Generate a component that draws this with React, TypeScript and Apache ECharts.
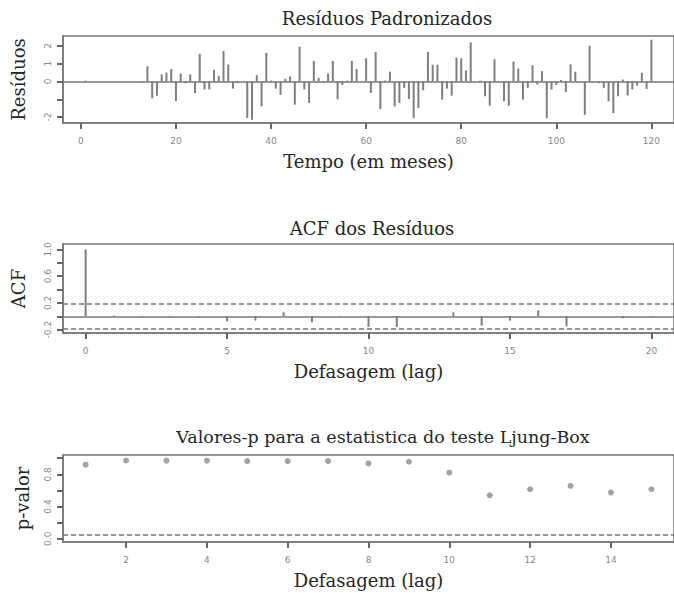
import React, { useEffect, useRef } from "react";
import * as echarts from "echarts";

// ---- Data ----
const tempo: number[] = Array.from({ length: 120 }, (_, i) => i + 1);
const residuos: number[] = [
  0.05, 0, 0, 0, 0, 0, 0, 0, 0, 0, 0, 0, -0.05, 0.85, -0.95, -0.8, 0.4, 0.5, 0.7, -1.1,
  0.45, -0.1, 0.4, -0.65, 1.55, -0.45, -0.45, 0.65, 0.3, 1.7,
  0.95, -0.4, -0.1, 0, -2.05, -2.15, 0.35, -1.4, 1.6, 0.05,
  -0.4, -0.75, 0.15, 0.28, -1.3, 1.95, -0.45, -1.2, 1.15, 0.2,
  -0.05, 0.45, 1.15, -1.0, -0.2, 0.05, 1.15, 0.7, 0, 1.3,
  -0.64, 1.66, -1.55, 0.05, 0.55, -1.4, -1.21, -0.36, -0.98, -2.06,
  -1.49, -0.49, 1.66, 0.94, 0.94, -1.02, -0.4, -0.79, 1.34, 1.3,
  0.62, 2.19, 0, 0.05, -0.83, -1.36, 1.25, 0, -1.11, -1.36,
  1.11, 0.72, -1.02, -0.36, 0.91, -0.17, 0.58, -2.06, -0.45, -0.2,
  0.08, -0.6, 0.96, 0.55, 0, -1.87, 2.0, 0, -0.1, -0.36,
  -1.11, -1.77, -0.83, 0.11, -0.79, -0.45, -0.23, 0.49, -0.42, 2.34,
];

const acfLags: number[] = [0, 1, 2, 3, 4, 5, 6, 7, 8, 9, 10, 11, 12, 13, 14, 15, 16, 17, 18, 19, 20];
const acfValues: number[] = [
  1.0, 0.01, -0.01, -0.015, -0.015, -0.075, -0.065, 0.06, -0.09, 0.005, -0.16,
  -0.16, 0, 0.06, -0.14, -0.065, 0.09, -0.15, 0, -0.03, -0.01,
];
const acfLimit = 0.18;

const lbLags: number[] = [1, 2, 3, 4, 5, 6, 7, 8, 9, 10, 11, 12, 13, 14, 15];
const pValores: number[] = [
  0.92, 0.972, 0.97, 0.97, 0.964, 0.964, 0.964, 0.935, 0.956, 0.82, 0.54, 0.615, 0.656, 0.574, 0.615,
];
const pLimit = 0.05;

// tick positions / labels
const resXTicks = [0, 20, 40, 60, 80, 100, 120];
const resYTicks = [-2, -1, 0, 1, 2];
const resYLabels = [-2, 0, 1, 2];
const acfXTicks = [0, 5, 10, 15, 20];
const acfYTicks = [-0.2, 0, 0.2, 0.4, 0.6, 0.8, 1.0];
const acfYLabels = [-0.2, 0.2, 0.6, 1.0];
const lbXTicks = [2, 4, 6, 8, 10, 12, 14];
const lbYTicks = [0, 0.2, 0.4, 0.6, 0.8, 1.0];
const lbYLabels = [0, 0.4, 0.8];

const SERIF = "'DejaVu Serif', 'Liberation Serif', serif";
const SANS = "'DejaVu Sans', sans-serif";
const GREY = "#777777";
const TICK = "#666666";
const TEXT = "#262626";

const Y_RANGES: [number, number][] = [
  [-2.33, 2.55],
  [-0.25, 1.08],
  [-0.04, 1.04],
];

function xAxisDef(gridIndex: number, min: number, max: number, ticks: number[], name: string) {
  return {
    type: "value",
    gridIndex,
    min,
    max,
    name,
    nameLocation: "middle",
    nameGap: 29,
    nameTextStyle: { fontFamily: SERIF, fontSize: 18, color: TEXT },
    axisLine: { show: true, onZero: false, lineStyle: { color: GREY, width: 1.5 } },
    axisTick: { show: true, inside: false, length: 6, customValues: ticks, lineStyle: { color: TICK, width: 2 } },
    axisLabel: {
      show: true,
      customValues: ticks,
      margin: 13,
      fontSize: 9,
      fontFamily: SANS,
      color: "#878787",
    },
    splitLine: { show: false },
  };
}

function yAxisDef(
  gridIndex: number,
  ticks: number[],
  labels: number[],
  name: string,
  decimals: number,
  nameGap: number
) {
  return {
    type: "value",
    gridIndex,
    min: Y_RANGES[gridIndex][0],
    max: Y_RANGES[gridIndex][1],
    name,
    nameLocation: "middle",
    nameGap,
    nameTextStyle: { fontFamily: SERIF, fontSize: 18, color: TEXT },
    axisLine: { show: true, onZero: false, lineStyle: { color: GREY, width: 1.5 } },
    axisTick: { show: true, inside: false, length: 6, customValues: ticks, lineStyle: { color: TICK, width: 2 } },
    axisLabel: {
      show: true,
      customValues: labels,
      rotate: 90,
      margin: 11,
      fontSize: 9,
      fontFamily: SANS,
      color: "#878787",
      formatter: (v: number) => v.toFixed(decimals),
    },
    splitLine: { show: false },
  };
}

export default function App() {
  const ref = useRef<HTMLDivElement>(null);

  useEffect(() => {
    if (!ref.current) return;
    const chart = echarts.init(ref.current, null, { renderer: "svg" });

    const gridStyle = { show: true, borderColor: GREY, borderWidth: 1.5, backgroundColor: "transparent" };

    const option: any = {
      animation: false,
      backgroundColor: "#ffffff",
      grid: [
        { left: 63, top: 36, width: 614, height: 87, ...gridStyle },
        { left: 63, top: 244, width: 615, height: 89, ...gridStyle },
        { left: 63, top: 455, width: 617, height: 87, ...gridStyle },
      ],
      xAxis: [
        xAxisDef(0, -3.76, 124.76, resXTicks, "Tempo (em meses)"),
        xAxisDef(1, -0.8, 20.8, acfXTicks, "Defasagem (lag)"),
        xAxisDef(2, 0.44, 15.56, lbXTicks, "Defasagem (lag)"),
      ],
      yAxis: [
        yAxisDef(0, resYTicks, resYLabels, "Resíduos", 0, 36),
        yAxisDef(1, acfYTicks, acfYLabels, "ACF", 1, 36),
        yAxisDef(2, lbYTicks, lbYLabels, "p-valor", 1, 32),
      ],
      graphic: [
        {
          type: "text",
          x: 387,
          y: 18,
          style: { text: "Resíduos Padronizados", align: "center", verticalAlign: "middle", font: `18px ${SERIF}`, fill: TEXT },
        },
        {
          type: "text",
          x: 372,
          y: 228,
          style: { text: "ACF dos Resíduos", align: "center", verticalAlign: "middle", font: `18px ${SERIF}`, fill: TEXT },
        },
        {
          type: "text",
          x: 383,
          y: 437,
          style: {
            text: "Valores-p para a estatistica do teste Ljung-Box",
            align: "center",
            verticalAlign: "middle",
            font: `17.5px ${SERIF}`,
            fill: TEXT,
          },
        },
      ],
      series: [
        {
          type: "bar",
          xAxisIndex: 0,
          yAxisIndex: 0,
          barWidth: 2,
          itemStyle: { color: "#7f7f7f" },
          data: tempo.map((t, i) => [t, residuos[i]]),
          markLine: {
            silent: true,
            symbol: ["none", "none"],
            label: { show: false },
            lineStyle: { color: GREY, width: 1.5, type: "solid" },
            data: [{ yAxis: 0 }],
          },
        },
        {
          type: "bar",
          xAxisIndex: 1,
          yAxisIndex: 1,
          barWidth: 2,
          itemStyle: { color: "#7f7f7f" },
          data: acfLags.map((l, i) => [l, acfValues[i]]),
          markLine: {
            silent: true,
            symbol: ["none", "none"],
            label: { show: false },
            data: [
              { yAxis: 0, lineStyle: { color: GREY, width: 1.5, type: "solid" } },
              { yAxis: acfLimit, lineStyle: { color: GREY, width: 1.5, type: [5, 3] } },
              { yAxis: -acfLimit, lineStyle: { color: GREY, width: 1.5, type: [5, 3] } },
            ],
          },
        },
        {
          type: "scatter",
          xAxisIndex: 2,
          yAxisIndex: 2,
          symbol: "circle",
          symbolSize: 6,
          itemStyle: { color: "#8c8c8c" },
          data: lbLags.map((l, i) => [l, pValores[i]]),
          markLine: {
            silent: true,
            symbol: ["none", "none"],
            label: { show: false },
            lineStyle: { color: GREY, width: 1.5, type: [5, 3] },
            data: [{ yAxis: pLimit }],
          },
        },
      ],
    };

    chart.setOption(option);
    return () => chart.dispose();
  }, []);

  return (
    <div
      ref={ref}
      style={{ position: "fixed", left: 0, top: 0, width: 674, height: 596, background: "#ffffff" }}
    />
  );
}
